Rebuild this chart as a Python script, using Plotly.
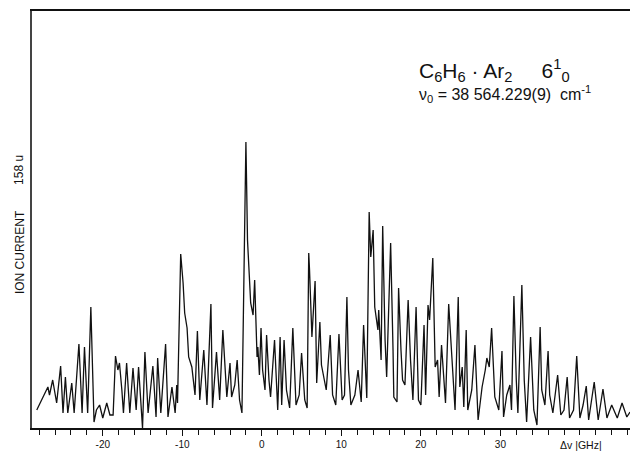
import plotly.graph_objects as go

# Frequency offset (GHz) and ion current (arb. units)
freq_ghz = [
    -28.3, -27.7, -26.9, -26.7, -26.3, -25.8, -25.3, -25.0, -24.7, -24.4,
    -23.9, -23.6, -23.0, -22.6, -22.3, -21.9, -21.5, -21.1, -20.8, -20.4,
    -20.0, -19.5, -19.1, -18.7, -18.4, -18.1, -17.9, -17.6, -17.4, -17.0,
    -16.6, -16.2, -15.8, -15.5, -15.2, -15.0, -14.7, -14.3, -13.7, -13.3,
    -13.1, -12.7, -12.1, -11.8, -11.3, -10.9, -10.7, -10.6, -10.2, -9.9,
    -9.7, -9.4, -9.2, -8.8, -8.4, -8.1, -7.8, -7.3, -6.9, -6.4,
    -6.2, -5.7, -5.3, -4.9, -4.4,
    -4.0, -3.8, -3.4, -3.1, -2.8, -2.5, -2.3, -2.0, -1.9, -1.8,
    -1.4, -1.1, -0.9, -0.6, -0.5, -0.3, -0.1, 0.1, 0.4, 0.6,
    0.9, 1.1, 1.6, 2.0, 2.3, 2.5, 2.8, 3.1, 3.5, 3.9,
    4.3, 4.7, 5.0, 5.4, 5.7, 5.9, 6.0, 6.3, 6.7, 6.9,
    7.3, 7.5, 8.1, 8.6, 8.9, 9.3, 9.7, 10.1, 10.4, 10.7,
    10.9, 11.2, 11.7, 12.1, 12.5, 12.8, 13.2, 13.5, 13.7, 14.0,
    14.2, 14.6, 14.7, 15.0, 15.2, 15.5, 15.7, 16.2, 16.5, 16.6,
    17.0, 17.2, 17.5, 17.7, 18.0, 18.4, 18.7, 19.0, 19.4, 19.7,
    20.0, 20.4, 20.6,
    20.9, 21.1, 21.5, 21.8, 22.1, 22.3, 22.6, 23.1, 23.5, 23.9,
    24.3, 24.7, 24.9, 25.2, 25.4, 25.7, 25.9, 26.4, 26.8, 27.2,
    27.7, 28.1, 28.3, 28.6, 28.9, 29.3, 29.8, 30.2, 30.4, 30.8,
    31.2, 31.4, 31.7, 32.0, 32.2, 32.7, 33.0, 33.3, 33.8, 34.2,
    34.6, 35.0, 35.2, 35.6, 36.0, 36.2, 36.6, 37.2, 37.6, 38.0,
    38.4, 38.7, 39.2, 39.6, 40.0, 40.4, 40.8, 41.1, 41.8, 42.3,
    42.9, 43.4, 43.8, 44.0, 44.7, 45.3, 45.9, 46.3,
]
ion_current = [
    18, 28, 41, 33, 48, 25, 62, 15, 51, 15,
    45, 15, 84, 15, 81, 15, 121, 6, 18, 23,
    10, 25, 13, 13, 72, 58, 65, 38, 15, 65,
    15, 60, 18, 61, 23, 0, 76, 15, 62, 11,
    70, 15, 84, 11, 41, 15, 43, 25, 174, 145,
    115, 100, 71, 61, 33, 97, 28, 78, 23, 124,
    20, 76, 28, 98, 31,
    65, 31, 43, 68, 28, 15, 128, 286, 238, 188,
    125, 113, 148, 71, 81, 53, 100, 58, 38, 93,
    48, 31, 88, 18, 91, 23, 88, 38, 20, 100,
    23, 33, 75, 28, 20, 175, 158, 91, 147, 45,
    106, 63, 38, 93, 33, 23, 94, 28, 33, 131,
    58, 23, 33, 58, 26, 103, 30, 216, 171, 198,
    121, 98, 118, 68, 202, 88, 51, 185, 78, 31,
    26, 140, 78, 48, 43, 128, 68, 28, 121, 28,
    23, 103, 33,
    123, 108, 170, 61, 68, 31, 83, 25, 124, 71,
    18, 131, 41, 61, 21, 98, 18, 38, 83, 8,
    41, 58, 70, 61, 100, 31, 18, 77, 11, 33,
    43, 18, 132, 48, 15, 143, 48, 6, 91, 18,
    3, 101, 38, 23, 77, 33, 15, 53, 13, 18,
    51, 10, 18, 72, 10, 23, 42, 8, 46, 8,
    39, 10, 18, 23, 10, 25, 11, 16,
]

tick_vals = [-20, -10, 0, 10, 20, 30]
tick_text = ["-20", "-10", "0", "10", "20", "30"]

fig = go.Figure()
fig.add_trace(go.Scatter(
    x=freq_ghz, y=ion_current, mode="lines",
    line=dict(color="#111111", width=1.3),
    hoverinfo="skip", showlegend=False,
))

font_family = "Liberation Sans, Arial, Helvetica, sans-serif"

fig.update_layout(
    width=630, height=454,
    margin=dict(l=32, r=0, t=11, b=26),
    paper_bgcolor="white", plot_bgcolor="white",
    font=dict(family=font_family, color="#111111"),
    xaxis=dict(
        range=[-28.9, 46.3],
        showgrid=False, zeroline=False,
        showline=True, linecolor="#111111", linewidth=2, mirror=True,
        ticks="outside", ticklen=6, tickwidth=1, tickcolor="#111111",
        tickvals=tick_vals, ticktext=tick_text,
        tickfont=dict(size=10, color="#111111"),
        minor=dict(dtick=2, tick0=0, ticks="outside", ticklen=5,
                   tickwidth=1, tickcolor="#111111"),
    ),
    yaxis=dict(
        range=[0, 417],
        showgrid=False, zeroline=False,
        showline=True, linecolor="#444444", linewidth=1.5,
        showticklabels=False, ticks="",
    ),
)

fig.add_annotation(
    xref="paper", yref="paper", x=-0.036, y=0.423, yanchor="middle",
    text="ION CURRENT", textangle=-90, showarrow=False,
    font=dict(size=12, family=font_family, color="#111111"),
)
fig.add_annotation(
    xref="paper", yref="paper", x=-0.036, y=0.62, yanchor="middle",
    text="158 u", textangle=-90, showarrow=False,
    font=dict(size=12, family=font_family, color="#111111"),
)
fig.add_annotation(
    xref="paper", yref="paper", x=0.957, y=-0.022, yanchor="top",
    text="Δv |GHz|", showarrow=False,
    font=dict(size=10.5, family=font_family, color="#111111"),
)
fig.add_annotation(
    xref="paper", yref="paper", x=0.644, y=0.858, xanchor="left", yanchor="middle",
    text="C<sub>6</sub>H<sub>6</sub> · Ar<sub>2</sub>     6<sup>1</sup><sub>0</sub>",
    showarrow=False,
    font=dict(size=21, family=font_family, color="#111111"),
)
fig.add_annotation(
    xref="paper", yref="paper", x=0.644, y=0.8, xanchor="left", yanchor="middle",
    text="ν<sub>0</sub> = 38 564.229(9)  cm<sup>-1</sup>",
    showarrow=False,
    font=dict(size=16, family=font_family, color="#111111"),
)

fig.write_html("out.html", post_script="document.body.style.margin='0';",
               config={"displayModeBar": False})
